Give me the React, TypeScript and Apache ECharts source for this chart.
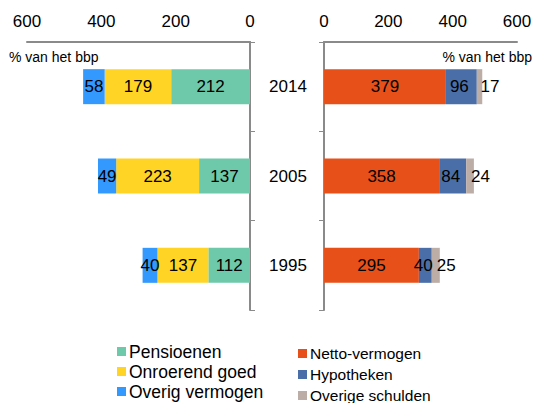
import React, { useEffect, useRef } from "react";
import * as echarts from "echarts";

const years = ["1995", "2005", "2014"];
const pensioenen = [112, 137, 212];
const onroerendGoed = [137, 223, 179];
const overigVermogen = [40, 49, 58];
const nettoVermogen = [295, 358, 379];
const hypotheken = [40, 84, 96];
const overigeSchulden = [25, 24, 17];
const ticks = { min: 0, max: 600, interval: 200 };
const unitLabel = "% van het bbp";

const FONT = "'Liberation Sans', Arial, sans-serif";
const AXIS = "#8a8a8a";

export default function App() {
  const ref = useRef<HTMLDivElement>(null);
  useEffect(() => {
    const chart = echarts.init(ref.current!, null, { renderer: "svg" });
    const lbl = { show: true, position: "inside", color: "#000", fontSize: 17, fontFamily: FONT };
    const xBase = {
      type: "value",
      position: "top",
      min: ticks.min,
      max: ticks.max,
      interval: ticks.interval,
      axisLine: { show: true, lineStyle: { color: AXIS, width: 2 } },
      axisTick: { show: false },
      splitLine: { show: false },
      axisLabel: { color: "#000", fontSize: 17, fontFamily: FONT, margin: 12 },
    };
    const yBase = {
      type: "category",
      data: years,
      axisLine: { show: true, lineStyle: { color: AXIS, width: 2 } },
      axisTick: { show: true, length: 5, lineStyle: { color: AXIS, width: 1 } },
    };
    chart.setOption({
      animation: false,
      textStyle: { fontFamily: FONT },
      grid: [
        { left: 27, right: 285, top: 42, bottom: 93 },
        { left: 324, right: 18, top: 42, bottom: 93 },
      ],
      xAxis: [
        { ...xBase, gridIndex: 0, inverse: true },
        { ...xBase, gridIndex: 1 },
      ],
      yAxis: [
        { ...yBase, gridIndex: 0, position: "right", axisLabel: { show: false } },
        {
          ...yBase,
          gridIndex: 1,
          position: "left",
          axisLabel: { show: true, color: "#000", fontSize: 17, fontFamily: FONT, margin: 36, align: "center" },
        },
      ],
      legend: [
        {
          orient: "vertical",
          left: 117,
          top: 342,
          width: 170,
          height: 62,
          padding: 0,
          itemWidth: 9,
          itemHeight: 9,
          itemGap: 1,
          icon: "rect",
          data: ["Pensioenen", "Onroerend goed", "Overig vermogen"],
          textStyle: { color: "#000", fontSize: 17.5, lineHeight: 19, fontFamily: FONT, padding: [0, 0, 0, -2] },
        },
        {
          orient: "vertical",
          left: 298,
          top: 344,
          width: 180,
          height: 62,
          padding: 0,
          itemWidth: 9,
          itemHeight: 9,
          itemGap: 2,
          icon: "rect",
          data: ["Netto-vermogen", "Hypotheken", "Overige schulden"],
          textStyle: { color: "#000", fontSize: 15.5, lineHeight: 19, fontFamily: FONT, padding: [0, 0, 0, -2] },
        },
      ],
      graphic: [
        { type: "text", left: 9, top: 50, style: { text: unitLabel, fontSize: 14, fontFamily: FONT, fill: "#000" } },
        { type: "text", right: 3, top: 50, style: { text: unitLabel, fontSize: 14, fontFamily: FONT, fill: "#000" } },
      ],
      series: [
        { name: "Pensioenen", type: "bar", stack: "l", xAxisIndex: 0, yAxisIndex: 0, barWidth: 35, data: pensioenen, itemStyle: { color: "#6DC9A9" }, label: lbl },
        { name: "Onroerend goed", type: "bar", stack: "l", xAxisIndex: 0, yAxisIndex: 0, barWidth: 35, data: onroerendGoed, itemStyle: { color: "#FFD424" }, label: lbl },
        { name: "Overig vermogen", type: "bar", stack: "l", xAxisIndex: 0, yAxisIndex: 0, barWidth: 35, data: overigVermogen, itemStyle: { color: "#3399FF" }, label: lbl },
        { name: "Netto-vermogen", type: "bar", stack: "r", xAxisIndex: 1, yAxisIndex: 1, barWidth: 35, data: nettoVermogen, itemStyle: { color: "#E8501A" }, label: lbl },
        { name: "Hypotheken", type: "bar", stack: "r", xAxisIndex: 1, yAxisIndex: 1, barWidth: 35, data: hypotheken, itemStyle: { color: "#4A6FA8" }, label: { ...lbl, offset: [-2, 0] } },
        {
          name: "Overige schulden", type: "bar", stack: "r", xAxisIndex: 1, yAxisIndex: 1, barWidth: 35, data: overigeSchulden,
          itemStyle: { color: "#BCADA6" },
          label: { ...lbl, position: ["50%", "50%"], align: "left", verticalAlign: "middle", offset: [1, 0] },
        },
      ],
    });
    return () => chart.dispose();
  }, []);
  return <div ref={ref} style={{ position: "absolute", left: 0, top: 0, width: 535, height: 403 }} />;
}
